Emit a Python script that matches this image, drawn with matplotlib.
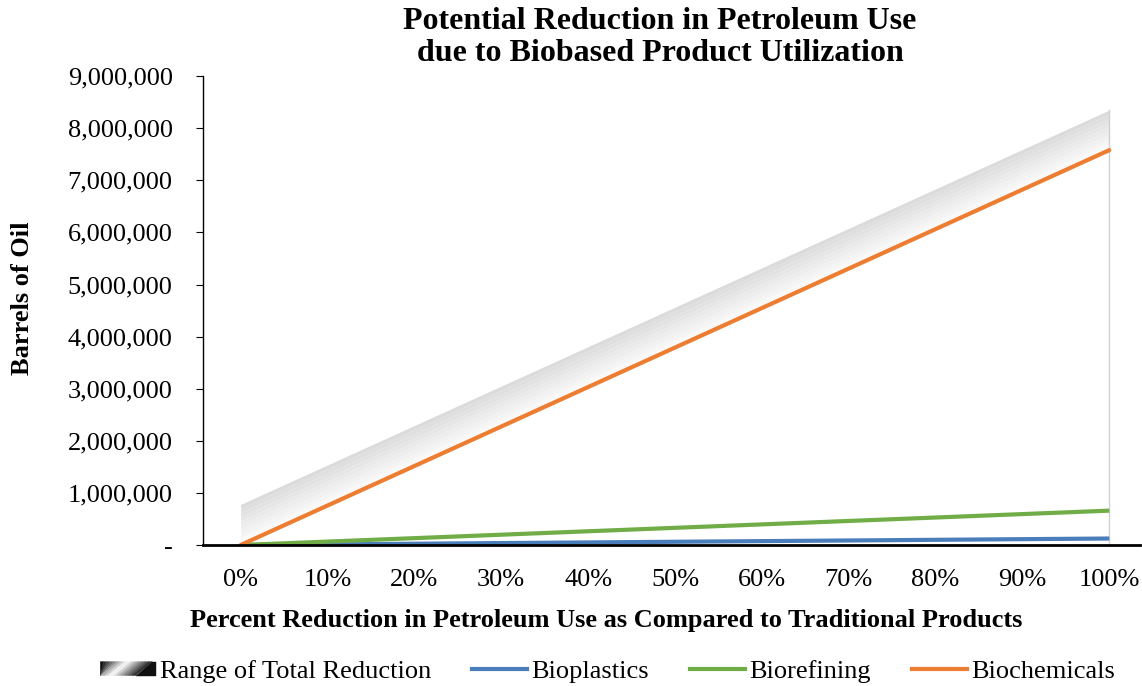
import numpy as np
import matplotlib.pyplot as plt
from matplotlib.legend_handler import HandlerBase
from matplotlib.patches import Polygon
from matplotlib.lines import Line2D
from matplotlib.ticker import FuncFormatter

plt.rcParams['font.family'] = ['Liberation Serif', 'DejaVu Serif']

# data
pct_labels = ['0%', '10%', '20%', '30%', '40%', '50%', '60%', '70%', '80%', '90%', '100%']
bioplastics = [0, 12500, 25000, 37500, 50000, 62500, 75000, 87500, 100000, 112500, 125000]
biorefining = [0, 66000, 132000, 198000, 264000, 330000, 396000, 462000, 528000, 594000, 660000]
biochemicals = [0, 758000, 1516000, 2274000, 3032000, 3790000, 4548000, 5306000, 6064000, 6822000, 7580000]
range_low = [0, 758000, 1516000, 2274000, 3032000, 3790000, 4548000, 5306000, 6064000, 6822000, 7580000]
range_high = [780000, 1537000, 2294000, 3051000, 3808000, 4565000, 5322000, 6079000, 6836000, 7593000, 8350000]

x = np.arange(len(pct_labels))

fig = plt.figure(figsize=(11.42, 6.86), dpi=100)
ax = fig.add_axes([0.178, 0.2055, 0.82, 0.6835])

# gradient band: lighter near the bottom, grey at the top
low = np.array(range_low, dtype=float)
high = np.array(range_high, dtype=float)
n = 10
for i in range(n):
    a = low + (high - low) * i / n
    b = low + (high - low) * (i + 1) / n
    g = 1.0 - 0.14 * (i + 1) / n
    ax.fill_between(x, a, b, color=(g, g, g), linewidth=0)
ax.plot([x[-1], x[-1]], [0, high[-1]], color='#d0d0d0', lw=1)

ax.plot(x, bioplastics, color='#4a7ebb', lw=3, solid_capstyle='butt')
ax.plot(x, biorefining, color='#70ad47', lw=3, solid_capstyle='butt')
ax.plot(x, biochemicals, color='#ed7d31', lw=3, solid_capstyle='round')

ax.set_xlim(-0.43, 10.35)
ax.set_ylim(0, 9000000)
ax.set_xticks(x)
ax.set_xticklabels(pct_labels)
ax.set_yticks(np.arange(0, 9000001, 1000000))
ax.yaxis.set_major_formatter(FuncFormatter(lambda v, p: '-' if v == 0 else '{:,.0f}'.format(v)))
ax.tick_params(axis='x', length=0, labelsize=19, pad=17.5)
ax.tick_params(axis='y', length=5, labelsize=19, direction='out', pad=17)
for s in ['top', 'right']:
    ax.spines[s].set_visible(False)
ax.spines['bottom'].set_linewidth(2)
ax.spines['left'].set_linewidth(1)

ax.set_ylabel('Barrels of Oil', fontsize=19, fontweight='bold')
ax.yaxis.set_label_coords(-0.181, 0.527)
ax.set_xlabel('Percent Reduction in Petroleum Use as Compared to Traditional Products',
              fontsize=19, fontweight='bold')
ax.xaxis.set_label_coords(0.43, -0.16)
ax.xaxis.label.set_va('center')
fig.text(0.578, 0.99, 'Potential Reduction in Petroleum Use\ndue to Biobased Product Utilization',
         ha='center', va='top', fontsize=23, fontweight='bold', linespacing=1.15)


class GradientHandler(HandlerBase):
    def create_artists(self, legend, orig_handle, xd, yd, width, height, fontsize, trans):
        arts = []
        k = 16
        h = height * 0.75
        y0 = -yd + (height - h) / 2
        sk = h * 1.2
        for i in range(k):
            t = (i + 0.5) / k
            g = 1 - abs(2 * t - 1)
            x0 = -xd + width * i / k
            x1 = -xd + width * (i + 1) / k
            if i == 0:
                bl = -xd
            else:
                bl = x0 - sk
            br = x1 - sk if i < k - 1 else -xd + width
            pts = [[max(bl, -xd), y0], [max(br, -xd), y0], [x1, y0 + h], [x0, y0 + h]]
            poly = Polygon(pts, closed=True, facecolor=(g, g, g), edgecolor=(g, g, g),
                           lw=0.3, transform=trans)
            arts.append(poly)
        return arts


class GradHandle:
    pass


handles = [GradHandle(),
           Line2D([], [], color='#4a7ebb', lw=3),
           Line2D([], [], color='#70ad47', lw=3),
           Line2D([], [], color='#ed7d31', lw=3)]
labels = ['Range of Total Reduction', 'Bioplastics', 'Biorefining', 'Biochemicals']
fig.legend(handles, labels, loc='lower center', bbox_to_anchor=(0.532, -0.03), ncol=4,
           frameon=False, fontsize=19, handlelength=2.1, handletextpad=0.15, columnspacing=1.55,
           handler_map={GradHandle: GradientHandler()})

fig.savefig('out.png', dpi=100)
